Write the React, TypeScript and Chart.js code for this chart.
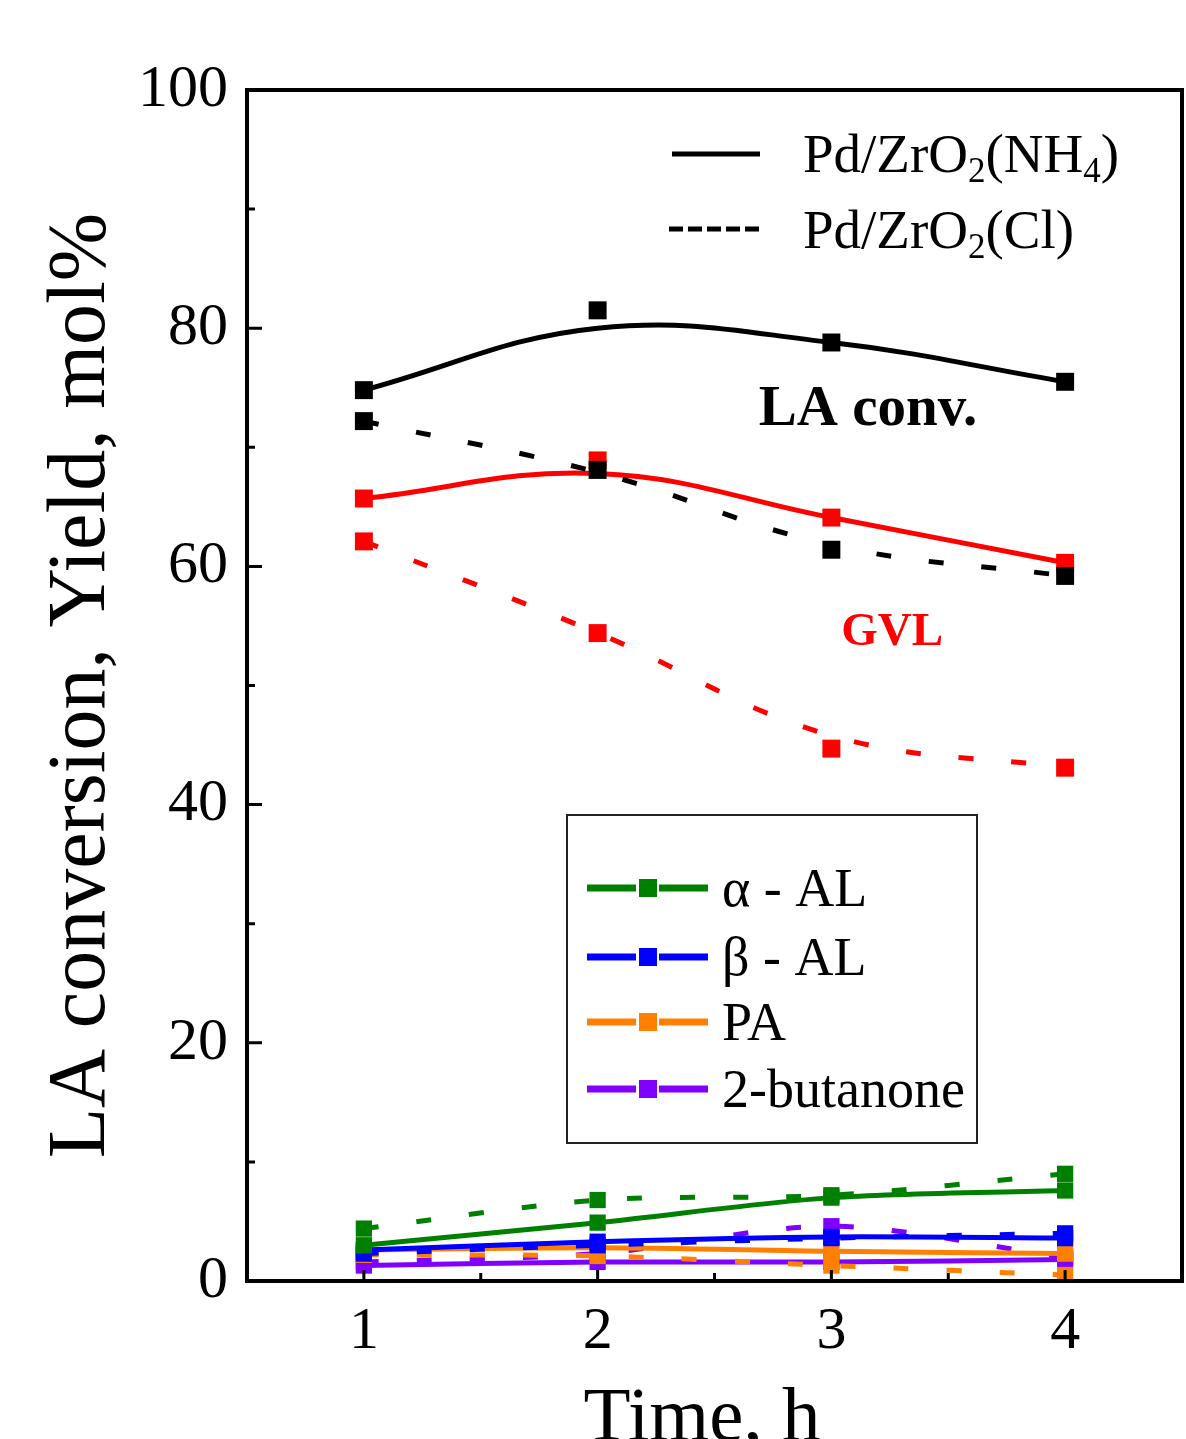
import React, { useEffect, useRef } from "react";
import { Chart, registerables } from "chart.js";

Chart.register(...registerables);

// ---------------- data ----------------
const timeH = [1, 2, 3, 4];

const laConvNH4 = [74.8, 81.5, 78.8, 75.5];
const laConvNH4Fit = [74.8, 80.0, 78.8, 75.5];
const laConvCl = [72.2, 68.1, 61.4, 59.2];
const laConvClFit = [72.2, 67.9, 61.8, 59.2];

// GVL yield
const gvlNH4 = [65.7, 68.9, 64.1, 60.3];
const gvlNH4Fit = [65.7, 67.8, 64.1, 60.3];
const gvlCl = [62.1, 54.4, 44.7, 43.1];
const gvlClFit = [62.1, 54.4, 45.8, 43.1];

// by-products
const alphaAlNH4 = [3.0, 4.9, 7.0, 7.6];
const alphaAlCl = [4.4, 6.8, 7.2, 9.0];
const betaAlNH4 = [2.6, 3.3, 3.7, 3.6];
const betaAlCl = [2.3, 3.0, 3.6, 4.0];
const paNH4 = [2.6, 2.8, 2.5, 2.3];
const paCl = [2.2, 2.1, 1.3, 0.5];
const butanoneNH4 = [1.3, 1.6, 1.6, 1.8];
const butanoneCl = [1.6, 2.3, 4.6, 2.0];

const productLabels = ["α - AL", "β - AL", "PA", "2-butanone"];
const productColors = ["#008000", "#0000ff", "#ff8000", "#8000ff"];

const yTicks = [0, 20, 40, 60, 80, 100];
const yMinorTicks = [10, 30, 50, 70, 90];
const xTicks = [1, 2, 3, 4];
const xMinorTicks = [1.5, 2.5, 3.5];

const FONT = "'Liberation Serif', 'Times New Roman', serif";
const DASH = [15, 38];

const pts = (arr: number[]) => timeH.map((t, i) => ({ x: t, y: arr[i] }));

function markerSet(arr: number[], color: string) {
  return {
    data: pts(arr),
    showLine: false,
    pointStyle: "rect",
    pointRadius: 12.7,
    pointHoverRadius: 12.7,
    pointBorderWidth: 0,
    pointBackgroundColor: color,
    borderColor: color,
    backgroundColor: color,
  };
}

function fitSet(arr: number[], color: string, dashed: boolean) {
  return {
    data: pts(arr),
    showLine: true,
    borderColor: color,
    borderWidth: 5,
    borderDash: dashed ? DASH : [],
    tension: 0.4,
    pointRadius: 0,
    pointHoverRadius: 0,
    fill: false,
  };
}

function productSet(arr: number[], color: string, dashed: boolean) {
  return {
    data: pts(arr),
    showLine: true,
    borderColor: color,
    borderWidth: 5,
    borderDash: dashed ? DASH : [],
    tension: 0.3,
    pointStyle: "rect",
    pointRadius: 11.5,
    pointHoverRadius: 11.5,
    pointBorderWidth: 0,
    pointBackgroundColor: color,
    backgroundColor: color,
    fill: false,
  };
}

const decorPlugin = {
  id: "decor",
  afterDraw(chart: any) {
    const { ctx, chartArea } = chart;
    const xs = chart.scales.x;
    const ys = chart.scales.y;
    const { left, right, top, bottom } = chartArea;
    ctx.save();

    // frame
    ctx.strokeStyle = "#000";
    ctx.lineWidth = 4;
    ctx.lineCap = "square";
    ctx.beginPath();
    ctx.rect(left, top, right - left, bottom - top);
    ctx.stroke();
    ctx.lineCap = "butt";

    // inward ticks
    ctx.lineWidth = 3;
    ctx.beginPath();
    yTicks.forEach((v) => {
      const p = ys.getPixelForValue(v);
      ctx.moveTo(left, p);
      ctx.lineTo(left + 15, p);
    });
    yMinorTicks.forEach((v) => {
      const p = ys.getPixelForValue(v);
      ctx.moveTo(left, p);
      ctx.lineTo(left + 8, p);
    });
    xTicks.forEach((v) => {
      const p = xs.getPixelForValue(v);
      ctx.moveTo(p, bottom);
      ctx.lineTo(p, bottom - 11);
    });
    xMinorTicks.forEach((v) => {
      const p = xs.getPixelForValue(v);
      ctx.moveTo(p, bottom);
      ctx.lineTo(p, bottom - 8);
    });
    ctx.stroke();

    // axis titles
    ctx.fillStyle = "#000";
    ctx.font = `82px ${FONT}`;
    ctx.textAlign = "center";
    ctx.textBaseline = "alphabetic";
    ctx.save();
    ctx.translate(104, (top + bottom) / 2);
    ctx.rotate(-Math.PI / 2);
    ctx.fillText("LA conversion, Yield, mol%", 0, 0);
    ctx.restore();
    ctx.font = `77px ${FONT}`;
    ctx.fillText("Time, h", 702, 1440);

    // annotations
    ctx.font = `bold 57px ${FONT}`;
    ctx.fillText("LA conv.", xs.getPixelForValue(3.157), ys.getPixelForValue(71.9));
    ctx.fillStyle = "#ff0000";
    ctx.font = `bold 47px ${FONT}`;
    ctx.fillText("GVL", xs.getPixelForValue(3.26), ys.getPixelForValue(53.4));

    // catalyst legend (top right)
    ctx.fillStyle = "#000";
    ctx.strokeStyle = "#000";
    ctx.lineWidth = 5;
    ctx.beginPath();
    ctx.moveTo(672, 154);
    ctx.lineTo(760, 154);
    ctx.stroke();
    ctx.setLineDash([14, 5]);
    ctx.beginPath();
    ctx.moveTo(669, 229);
    ctx.lineTo(762, 229);
    ctx.stroke();
    ctx.setLineDash([]);

    const drawRich = (parts: [string, boolean][], x: number, y: number) => {
      ctx.textAlign = "left";
      ctx.textBaseline = "alphabetic";
      let cx = x;
      parts.forEach(([t, sub]) => {
        ctx.font = sub ? `35px ${FONT}` : `55px ${FONT}`;
        ctx.fillText(t, cx, sub ? y + 10 : y);
        cx += ctx.measureText(t).width;
      });
    };
    drawRich(
      [
        ["Pd/ZrO", false],
        ["2", true],
        ["(NH", false],
        ["4", true],
        [")", false],
      ],
      803,
      172
    );
    drawRich(
      [
        ["Pd/ZrO", false],
        ["2", true],
        ["(Cl)", false],
      ],
      803,
      248
    );

    // product legend box
    ctx.strokeStyle = "#222";
    ctx.lineWidth = 2;
    ctx.strokeRect(567, 815, 410, 328);
    const rowY = [888, 957, 1022, 1089];
    productLabels.forEach((lab, i) => {
      const y = rowY[i];
      const c = productColors[i];
      ctx.strokeStyle = c;
      ctx.fillStyle = c;
      ctx.lineWidth = 7;
      ctx.beginPath();
      ctx.moveTo(587, y);
      ctx.lineTo(636, y);
      ctx.moveTo(659, y);
      ctx.lineTo(708, y);
      ctx.stroke();
      ctx.fillRect(639, y - 9, 18, 18);
      ctx.fillStyle = "#000";
      ctx.font = `54px ${FONT}`;
      ctx.textAlign = "left";
      ctx.textBaseline = "alphabetic";
      ctx.fillText(lab, 722, y + 18);
    });

    ctx.restore();
  },
};

export default function App() {
  const ref = useRef<HTMLCanvasElement | null>(null);

  useEffect(() => {
    document.body.style.margin = "0";
    if (!ref.current) return;
    const datasets: any[] = [
      markerSet(laConvNH4, "#000"),
      markerSet(laConvCl, "#000"),
      markerSet(gvlNH4, "#ff0000"),
      markerSet(gvlCl, "#ff0000"),
      fitSet(laConvNH4Fit, "#000", false),
      fitSet(laConvClFit, "#000", true),
      fitSet(gvlNH4Fit, "#ff0000", false),
      fitSet(gvlClFit, "#ff0000", true),
      productSet(alphaAlNH4, productColors[0], false),
      productSet(alphaAlCl, productColors[0], true),
      productSet(betaAlNH4, productColors[1], false),
      productSet(betaAlCl, productColors[1], true),
      productSet(paNH4, productColors[2], false),
      productSet(paCl, productColors[2], true),
      productSet(butanoneNH4, productColors[3], false),
      productSet(butanoneCl, productColors[3], true),
    ];
    const chart = new Chart(ref.current, {
      type: "line",
      data: { datasets },
      options: {
        responsive: false,
        animation: false,
        devicePixelRatio: 1,
        layout: { autoPadding: false, padding: { top: 90, right: 4, left: 0, bottom: 0 } },
        plugins: {
          legend: { display: false },
          tooltip: { enabled: false },
          title: { display: false },
        },
        scales: {
          x: {
            type: "linear",
            min: 0.5,
            max: 4.5,
            afterFit: (s: any) => {
              s.height = 158;
              s.paddingLeft = 0;
              s.paddingRight = 0;
            },
            afterBuildTicks: (s: any) => {
              s.ticks = xTicks.map((v) => ({ value: v }));
            },
            grid: { display: false, drawTicks: false },
            border: { display: false },
            ticks: {
              font: { family: FONT, size: 60 },
              color: "#000",
              padding: 15,
              maxRotation: 0,
              callback: (v: any) => String(v),
            },
          },
          y: {
            type: "linear",
            min: 0,
            max: 100,
            afterFit: (s: any) => {
              s.width = 247;
              s.paddingTop = 0;
              s.paddingBottom = 0;
            },
            afterBuildTicks: (s: any) => {
              s.ticks = yTicks.map((v) => ({ value: v }));
            },
            grid: { display: false, drawTicks: false },
            border: { display: false },
            ticks: {
              font: { family: FONT, size: 60 },
              color: "#000",
              padding: 19,
              callback: (v: any) => String(v),
            },
          },
        },
      },
      plugins: [decorPlugin],
    });
    return () => chart.destroy();
  }, []);

  return (
    <div style={{ width: 1186, height: 1439, position: "relative" }}>
      <canvas ref={ref} width={1186} height={1439} style={{ display: "block" }} />
    </div>
  );
}
